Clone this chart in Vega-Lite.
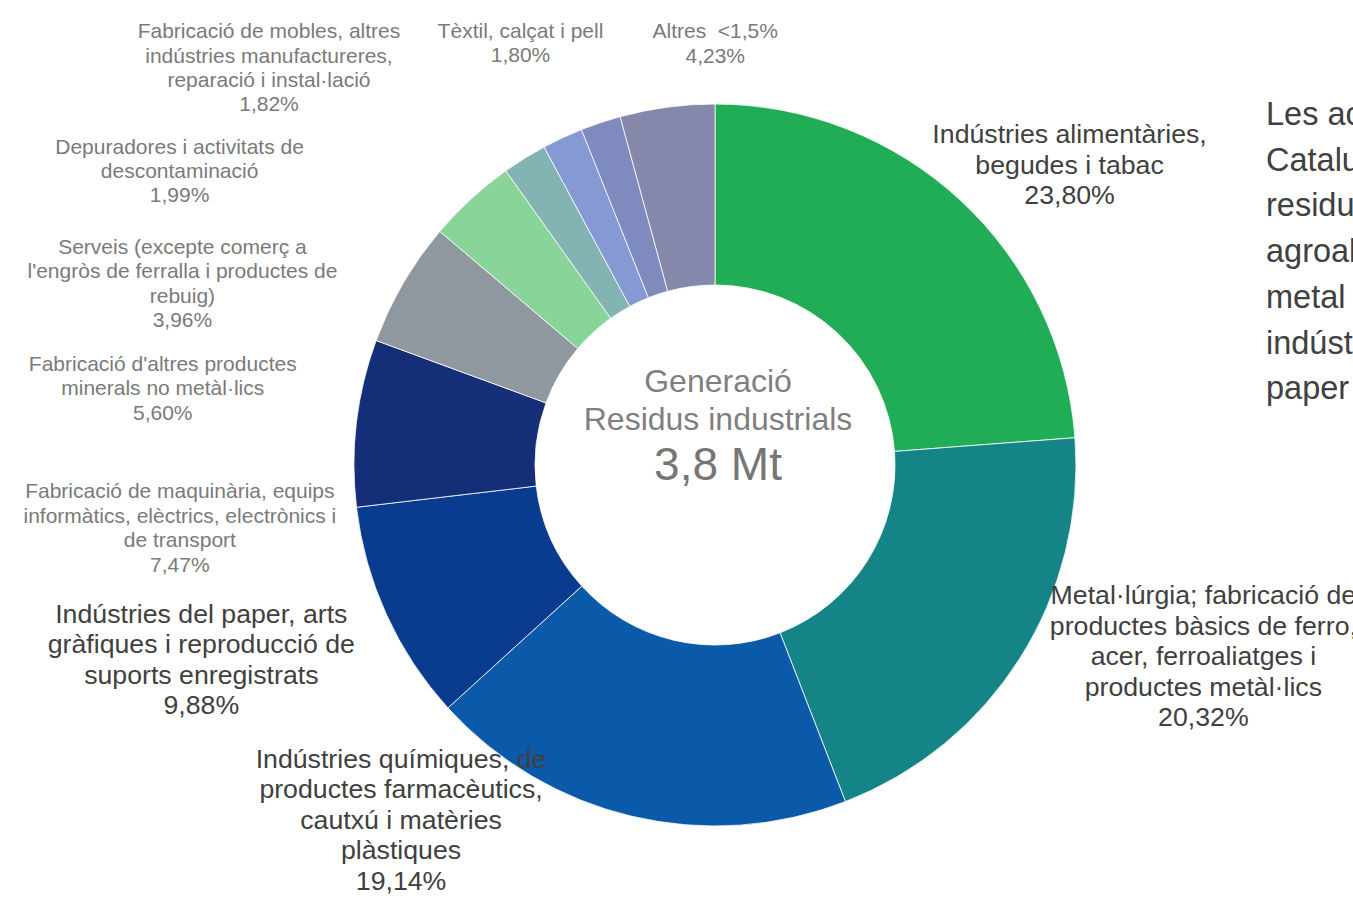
{
  "$schema": "https://vega.github.io/schema/vega-lite/v6.json",
  "width": 1276,
  "height": 868,
  "autosize": "none",
  "padding": {"left": 77, "top": 31, "right": 0, "bottom": 0},
  "background": "#ffffff",
  "config": {"view": {"stroke": null}, "font": "Liberation Sans"},
  "layer": [
    {
      "data": {
        "values": [
          {"n": 1, "sector": "Indústries alimentàries, begudes i tabac", "share": 23.80, "label": "Indústries alimentàries,\nbegudes i tabac\n23,80%"},
          {"n": 2, "sector": "Metal·lúrgia; fabricació de productes bàsics de ferro, acer, ferroaliatges i productes metàl·lics", "share": 20.32, "label": "Metal·lúrgia; fabricació de\nproductes bàsics de ferro,\nacer, ferroaliatges i\nproductes metàl·lics\n20,32%"},
          {"n": 3, "sector": "Indústries químiques, de productes farmacèutics, cautxú i matèries plàstiques", "share": 19.14, "label": "Indústries químiques, de\nproductes farmacèutics,\ncautxú i matèries\nplàstiques\n19,14%"},
          {"n": 4, "sector": "Indústries del paper, arts gràfiques i reproducció de suports enregistrats", "share": 9.88, "label": "Indústries del paper, arts\ngràfiques i reproducció de\nsuports enregistrats\n9,88%"},
          {"n": 5, "sector": "Fabricació de maquinària, equips informàtics, elèctrics, electrònics i de transport", "share": 7.47, "label": "Fabricació de maquinària, equips\ninformàtics, elèctrics, electrònics i\nde transport\n7,47%"},
          {"n": 6, "sector": "Fabricació d'altres productes minerals no metàl·lics", "share": 5.60, "label": "Fabricació d'altres productes\nminerals no metàl·lics\n5,60%"},
          {"n": 7, "sector": "Serveis (excepte comerç a l'engròs de ferralla i productes de rebuig)", "share": 3.96, "label": "Serveis (excepte comerç a\nl'engròs de ferralla i productes de\nrebuig)\n3,96%"},
          {"n": 8, "sector": "Depuradores i activitats de descontaminació", "share": 1.99, "label": "Depuradores i activitats de\ndescontaminació\n1,99%"},
          {"n": 9, "sector": "Fabricació de mobles, altres indústries manufactureres, reparació i instal·lació", "share": 1.82, "label": "Fabricació de mobles, altres\nindústries manufactureres,\nreparació i instal·lació\n1,82%"},
          {"n": 10, "sector": "Tèxtil, calçat i pell", "share": 1.80, "label": "Tèxtil, calçat i pell\n1,80%"},
          {"n": 11, "sector": "Altres <1,5%", "share": 4.23, "label": "Altres \u00a0<1,5%\n4,23%"}
        ]
      },
      "encoding": {
        "theta": {"field": "share", "type": "quantitative", "stack": true},
        "order": {"field": "n", "type": "quantitative"},
        "detail": {"field": "sector", "type": "nominal"}
      },
      "layer": [
        {
          "mark": {"type": "arc", "innerRadius": 180, "outerRadius": 361, "stroke": "#ffffff", "strokeWidth": 0.8},
          "encoding": {
            "color": {
              "field": "sector",
              "type": "nominal",
              "legend": null,
              "scale": {
                "domain": [
                  "Indústries alimentàries, begudes i tabac",
                  "Metal·lúrgia; fabricació de productes bàsics de ferro, acer, ferroaliatges i productes metàl·lics",
                  "Indústries químiques, de productes farmacèutics, cautxú i matèries plàstiques",
                  "Indústries del paper, arts gràfiques i reproducció de suports enregistrats",
                  "Fabricació de maquinària, equips informàtics, elèctrics, electrònics i de transport",
                  "Fabricació d'altres productes minerals no metàl·lics",
                  "Serveis (excepte comerç a l'engròs de ferralla i productes de rebuig)",
                  "Depuradores i activitats de descontaminació",
                  "Fabricació de mobles, altres indústries manufactureres, reparació i instal·lació",
                  "Tèxtil, calçat i pell",
                  "Altres <1,5%"
                ],
                "range": ["#21AD55", "#158486", "#0B5AAA", "#093C8E", "#142E77", "#8F979F", "#88D499", "#84B3B3", "#859AD4", "#7F8BBF", "#8688AB"]
              }
            }
          }
        },
        {"mark": {"type": "text", "radius": 270, "dx": 171, "dy": -132, "fontSize": 26.7, "fill": "#404040", "lineBreak": "\n", "lineHeight": 30.5, "align": "center", "baseline": "middle"},
         "encoding": {"text": {"condition": {"test": "datum.n === 1", "field": "label", "type": "nominal"}, "value": ""}}},
        {"mark": {"type": "text", "radius": 270, "dx": 260, "dy": -13, "fontSize": 26.7, "fill": "#404040", "lineBreak": "\n", "lineHeight": 30.5, "align": "center", "baseline": "middle"},
         "encoding": {"text": {"condition": {"test": "datum.n === 2", "field": "label", "type": "nominal"}, "value": ""}}},
        {"mark": {"type": "text", "radius": 270, "dx": -252, "dy": 32, "fontSize": 26.7, "fill": "#404040", "lineBreak": "\n", "lineHeight": 30.5, "align": "center", "baseline": "middle"},
         "encoding": {"text": {"condition": {"test": "datum.n === 3", "field": "label", "type": "nominal"}, "value": ""}}},
        {"mark": {"type": "text", "radius": 270, "dx": -268, "dy": 38, "fontSize": 26.7, "fill": "#404040", "lineBreak": "\n", "lineHeight": 30.5, "align": "center", "baseline": "middle"},
         "encoding": {"text": {"condition": {"test": "datum.n === 4", "field": "label", "type": "nominal"}, "value": ""}}},
        {"mark": {"type": "text", "radius": 270, "dx": -267, "dy": 59, "fontSize": 21, "fill": "#7a7a7a", "lineBreak": "\n", "lineHeight": 24.4, "align": "center", "baseline": "middle"},
         "encoding": {"text": {"condition": {"test": "datum.n === 5", "field": "label", "type": "nominal"}, "value": ""}}},
        {"mark": {"type": "text", "radius": 270, "dx": -319, "dy": 36, "fontSize": 21, "fill": "#7a7a7a", "lineBreak": "\n", "lineHeight": 24.4, "align": "center", "baseline": "middle"},
         "encoding": {"text": {"condition": {"test": "datum.n === 6", "field": "label", "type": "nominal"}, "value": ""}}},
        {"mark": {"type": "text", "radius": 270, "dx": -350, "dy": -18, "fontSize": 21, "fill": "#7a7a7a", "lineBreak": "\n", "lineHeight": 24.4, "align": "center", "baseline": "middle"},
         "encoding": {"text": {"condition": {"test": "datum.n === 7", "field": "label", "type": "nominal"}, "value": ""}}},
        {"mark": {"type": "text", "radius": 270, "dx": -393, "dy": -88, "fontSize": 21, "fill": "#7a7a7a", "lineBreak": "\n", "lineHeight": 24.4, "align": "center", "baseline": "middle"},
         "encoding": {"text": {"condition": {"test": "datum.n === 8", "field": "label", "type": "nominal"}, "value": ""}}},
        {"mark": {"type": "text", "radius": 270, "dx": -332, "dy": -188, "fontSize": 21, "fill": "#7a7a7a", "lineBreak": "\n", "lineHeight": 24.4, "align": "center", "baseline": "middle"},
         "encoding": {"text": {"condition": {"test": "datum.n === 9", "field": "label", "type": "nominal"}, "value": ""}}},
        {"mark": {"type": "text", "radius": 270, "dx": -109, "dy": -177, "fontSize": 21, "fill": "#7a7a7a", "lineBreak": "\n", "lineHeight": 24.4, "align": "center", "baseline": "middle"},
         "encoding": {"text": {"condition": {"test": "datum.n === 10", "field": "label", "type": "nominal"}, "value": ""}}},
        {"mark": {"type": "text", "radius": 270, "dx": 36, "dy": -165, "fontSize": 21, "fill": "#7a7a7a", "lineBreak": "\n", "lineHeight": 24.4, "align": "center", "baseline": "middle"},
         "encoding": {"text": {"condition": {"test": "datum.n === 11", "field": "label", "type": "nominal"}, "value": ""}}}
      ]
    },
    {
      "data": {"values": [{"t": "Generació\nResidus industrials"}]},
      "mark": {"type": "text", "dx": 3, "dy": -83, "fontSize": 32, "fill": "#7f7f7f", "lineBreak": "\n", "lineHeight": 38, "align": "center", "baseline": "middle"},
      "encoding": {"text": {"field": "t", "type": "nominal"}}
    },
    {
      "data": {"values": [{"t": "3,8 Mt"}]},
      "mark": {"type": "text", "dx": 3, "dy": 1, "fontSize": 46, "fill": "#767676", "align": "center", "baseline": "middle"},
      "encoding": {"text": {"field": "t", "type": "nominal"}}
    },
    {
      "data": {"values": [{"t": "Les activitats industrials de\nCatalunya que generen més\nresidus són les indústries\nagroalimentàries, la\nmetal lúrgica, la química i la\nindústria del\npaper"}]},
      "mark": {"type": "text", "dx": 551, "dy": -350, "fontSize": 32.5, "fill": "#404040", "lineBreak": "\n", "lineHeight": 45.7, "align": "left", "baseline": "middle"},
      "encoding": {"text": {"field": "t", "type": "nominal"}}
    }
  ]
}
